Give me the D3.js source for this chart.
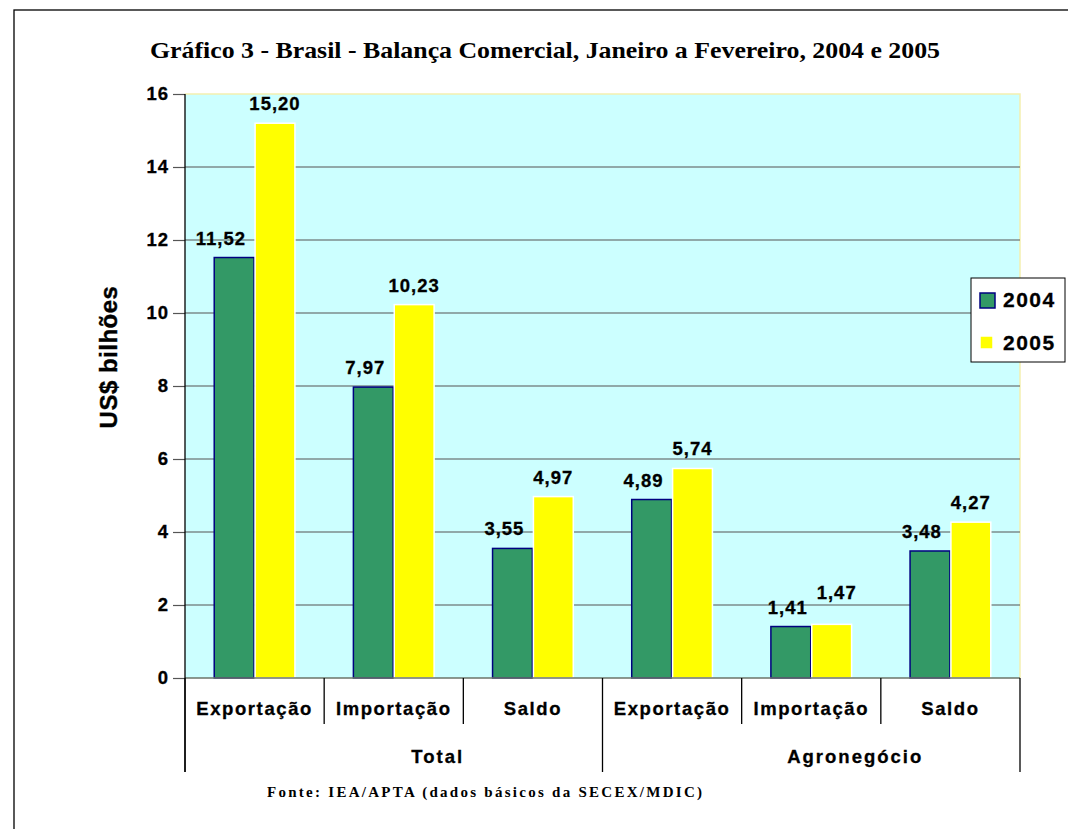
<!DOCTYPE html>
<html><head><meta charset="utf-8">
<script src="https://cdn.jsdelivr.net/npm/d3@7"></script>
<style>
body{margin:0;background:#fff;}
svg{display:block;}
text{font-family:Arial,"Liberation Sans",sans-serif;font-weight:bold;fill:#000;}
.serif{font-family:"Times New Roman","Liberation Serif",serif;}
</style></head>
<body>
<svg id="chart" width="1068" height="829"></svg>
<script>
const title = "Gráfico 3 - Brasil - Balança Comercial, Janeiro a Fevereiro, 2004 e 2005";
const source = "Fonte: IEA/APTA (dados básicos da SECEX/MDIC)";
const yTitle = "US$ bilhões";
const categories = ["Exportação","Importação","Saldo","Exportação","Importação","Saldo"];
const groups = ["Total","Agronegócio"];
const categoryGroup = [0,0,0,1,1,1];
const seriesNames = ["2004","2005"];
const values2004 = [11.52, 7.97, 3.55, 4.89, 1.41, 3.48];
const values2005 = [15.20, 10.23, 4.97, 5.74, 1.47, 4.27];
const yTicks = [0,2,4,6,8,10,12,14,16];

const seriesColors = ["#339966","#FFFF00"];
const seriesStroke = ["#000080","#FFFFFF"];

const svg = d3.select("#chart");
const W = 1068, H = 829;
const plot = {left:185, right:1020, top:94, bottom:678};

svg.append("rect").attr("x",14).attr("y",10).attr("width",W+20).attr("height",H+20)
  .attr("fill","#fff").attr("stroke","#000").attr("stroke-width",1.3);

const fmt = v => d3.format(".2f")(v).replace(".", ",");

const y = d3.scaleLinear().domain([0,16]).range([plot.bottom, plot.top]);
const x0 = d3.scaleBand().domain(d3.range(categories.length)).range([plot.left, plot.right]).paddingInner(0).paddingOuter(0);
const bw = x0.bandwidth();
const x1 = d3.scaleBand().domain(seriesNames).range([bw*0.21, bw*0.79]).paddingInner(0.025);

svg.append("rect").attr("x",plot.left).attr("y",plot.top)
  .attr("width",plot.right-plot.left).attr("height",plot.bottom-plot.top)
  .attr("fill","#CCFFFF").attr("stroke","none");
svg.append("path").attr("d",`M${plot.left},${plot.top}H${plot.right}V${plot.bottom}`)
  .attr("fill","none").attr("stroke","#F4F0B0").attr("stroke-width",1.5);

svg.append("g").selectAll("line").data(yTicks.filter(t=>t>0 && t<16)).join("line")
  .attr("x1",plot.left).attr("x2",plot.right)
  .attr("y1",d=>y(d)).attr("y2",d=>y(d))
  .attr("stroke","#555").attr("stroke-width",1.2);

const data = categories.map((c,i)=>({i, vals:[values2004[i], values2005[i]]}));
const gBars = svg.append("g");
data.forEach(d=>{
  d.vals.forEach((v,s)=>{
    gBars.append("rect")
      .attr("x", x0(d.i)+x1(seriesNames[s]))
      .attr("y", y(v))
      .attr("width", x1.bandwidth())
      .attr("height", y(0)-y(v))
      .attr("fill", seriesColors[s])
      .attr("stroke", seriesStroke[s]).attr("stroke-width",1.5);
  });
});

svg.append("line").attr("x1",plot.left).attr("x2",plot.right)
  .attr("y1",y(0)).attr("y2",y(0)).attr("stroke","#6B7468").attr("stroke-width",1.6);

const yAxis = d3.axisLeft(y).tickValues(yTicks).tickSize(12).tickPadding(4).tickFormat(d3.format("d"));
const gy = svg.append("g").attr("transform",`translate(${plot.left},0)`).call(yAxis);
gy.select(".domain").remove();
gy.selectAll(".tick line").attr("stroke","#555").attr("stroke-width",1.2);
gy.selectAll(".tick text").attr("font-size",18.5).attr("font-weight","bold")
  .attr("font-family","Arial, 'Liberation Sans', sans-serif").attr("fill","#000").attr("letter-spacing",1)
  .attr("stroke","#000").attr("stroke-width",0.3);
svg.append("line").attr("x1",plot.left).attr("x2",plot.left).attr("y1",plot.top).attr("y2",772)
  .attr("stroke","#000").attr("stroke-width",1.3);

const gLab = svg.append("g").attr("font-size",18.5).attr("text-anchor","middle").attr("letter-spacing",1)
  .attr("stroke","#000").attr("stroke-width",0.3);
data.forEach(d=>{
  const xs = d.vals.map((v,s)=> x0(d.i)+x1(seriesNames[s])+x1.bandwidth()/2);
  const ys = d.vals.map(v=> y(v)-13);
  const labW = d.vals.map(v=> fmt(v).length*10.5);
  let gx = xs[0];
  const yellowLeft = x0(d.i)+x1(seriesNames[1]);
  if (y(d.vals[1]) < ys[0]-14 && gx + labW[0]/2 > yellowLeft) gx = yellowLeft - 8 - labW[0]/2;
  let yx = xs[1], yy = ys[1];
  if (Math.abs(ys[0]-ys[1]) < 15) { yy = ys[0]-15; yx += 5; gx -= 3; }
  gLab.append("text").attr("x",gx).attr("y",ys[0]).text(fmt(d.vals[0]));
  gLab.append("text").attr("x",yx).attr("y",yy).text(fmt(d.vals[1]));
});

const gCat = svg.append("g");
d3.range(categories.length+1).forEach(k=>{
  const xx = k<categories.length ? x0(k) : plot.right;
  const isGroupEdge = k===0 || k===categories.length || categoryGroup[k]!==categoryGroup[k-1];
  gCat.append("line").attr("x1",xx).attr("x2",xx).attr("y1",plot.bottom)
    .attr("y2", isGroupEdge ? 772 : 724).attr("stroke","#000").attr("stroke-width",1.3);
});
gCat.selectAll("text.cat").data(categories).join("text").attr("class","cat")
  .attr("x",(d,i)=>x0(i)+bw/2).attr("y",715).attr("text-anchor","middle")
  .attr("font-size",18.5).attr("letter-spacing",1.6).attr("stroke","#000").attr("stroke-width",0.3).text(d=>d);
groups.forEach((g,gi)=>{
  const idx = d3.range(categories.length).filter(i=>categoryGroup[i]===gi);
  const gx0 = x0(idx[0]), gx1 = x0(idx[idx.length-1])+bw;
  gCat.append("text").attr("x",(gx0+gx1)/2+44).attr("y",763).attr("text-anchor","middle")
    .attr("font-size",18.5).attr("letter-spacing",2).attr("stroke","#000").attr("stroke-width",0.3).text(g);
});

svg.append("text").attr("transform","translate(117,357) rotate(-90)")
  .attr("text-anchor","middle").attr("font-size",24).attr("letter-spacing",0.5)
  .attr("stroke","#000").attr("stroke-width",0.4).text(yTitle);

svg.append("text").attr("class","serif").attr("x",545).attr("y",58).attr("text-anchor","middle")
  .attr("font-size",24).attr("textLength",790).attr("lengthAdjust","spacingAndGlyphs").text(title);

svg.append("text").attr("class","serif").attr("x",267).attr("y",797)
  .attr("font-size",15).attr("textLength",435).attr("lengthAdjust","spacing").text(source);

const lg = svg.append("g");
lg.append("rect").attr("x",971).attr("y",278).attr("width",94).attr("height",84)
  .attr("fill","#fff").attr("stroke","#000").attr("stroke-width",1);
seriesNames.forEach((s,i)=>{
  const cy = 300 + i*43;
  lg.append("rect").attr("x",980).attr("y",cy-7).attr("width",i===0?15:13).attr("height",i===0?15:13)
    .attr("fill",seriesColors[i]).attr("stroke",seriesStroke[i]).attr("stroke-width",1.5);
  lg.append("text").attr("x",1003).attr("y",cy+7).attr("font-size",21).attr("letter-spacing",1.5)
    .attr("stroke","#000").attr("stroke-width",0.3).text(s);
});
</script>
</body></html>
